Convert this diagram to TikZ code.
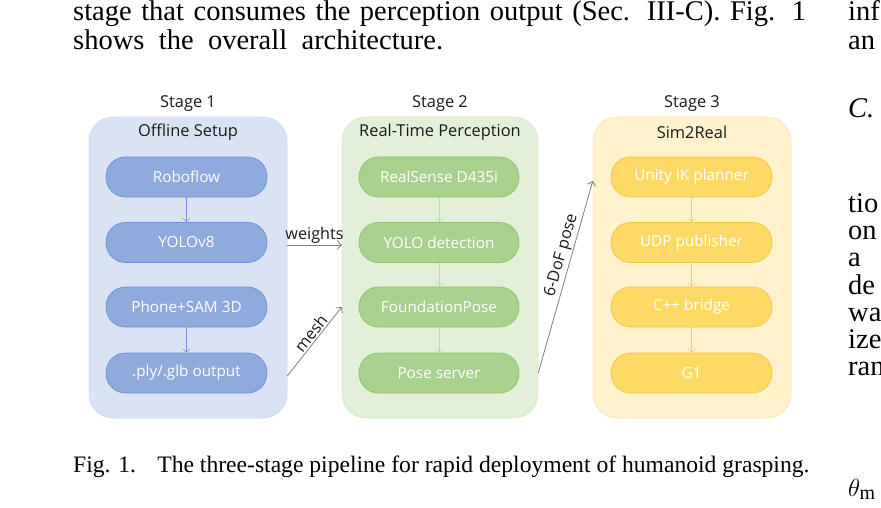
\documentclass[tikz,border=0pt]{standalone}
\usepackage{fontspec}
\setmainfont{Liberation Serif}
\newfontfamily\diagfont{Open Sans}
\usetikzlibrary{arrows.meta}
\definecolor{sOnebg}{HTML}{DAE3F3}
\definecolor{sOneline}{HTML}{C9D5EC}
\definecolor{sOnepill}{HTML}{8FAADC}
\definecolor{sOnepline}{HTML}{6F90D6}
\definecolor{sTwobg}{HTML}{E2F0D9}
\definecolor{sTwoline}{HTML}{D0E6C2}
\definecolor{sTwopill}{HTML}{A9D18E}
\definecolor{sTwopline}{HTML}{8DC46A}
\definecolor{sTwoarr}{HTML}{B7DC9C}
\definecolor{sThrbg}{HTML}{FFF2CC}
\definecolor{sThrline}{HTML}{F3E3B6}
\definecolor{sThrpill}{HTML}{FFD966}
\definecolor{sThrpline}{HTML}{F2C744}
\definecolor{sThrarr}{HTML}{F3CF66}
\definecolor{grayarr}{HTML}{7F7F7F}
\definecolor{labelink}{HTML}{1A1A1A}
\begin{document}
\begin{tikzpicture}[x=1pt,y=-1pt,
  stagebox/.style={rectangle, rounded corners=24pt, line width=0.5pt, inner sep=0pt, minimum height=301pt},
  pill/.style={rectangle, rounded corners=19.5pt, minimum height=40pt, line width=0.7pt, text=white, inner sep=0pt, font=\diagfont\fontsize{15.3}{18}\selectfont},
  headtext/.style={inner sep=0pt, text=labelink, font=\diagfont\fontsize{16.4}{19}\selectfont},
  inarrow/.style={line width=0.6pt, -{Straight Barb[length=3.5pt,width=7pt]}},
  linkarrow/.style={line width=0.8pt, draw=grayarr, -{Straight Barb[length=4pt,width=8.5pt]}},
  linklabel/.style={inner sep=1.5pt, text=labelink, font=\diagfont\fontsize{16.2}{19}\selectfont},
  bodytext/.style={anchor=base west, inner sep=0pt, font=\fontsize{28.5}{34}\selectfont},
  captext/.style={anchor=base west, inner sep=0pt, font=\fontsize{23.6}{28}\selectfont}
]
\useasboundingbox (0,0) rectangle (881,508);
\clip (0,0) rectangle (881,508);
\fill[white] (0,0) rectangle (881,508);

% page text
\node[bodytext] (bodyA) at (73,21) {\makebox[733pt][s]{stage that consumes the perception output (Sec. III-C). Fig. 1}};
\node[bodytext] (bodyB) at (73,50) {\makebox[370pt][s]{shows the overall architecture.}};
\node[bodytext] (rA) at (848,21) {inf};
\node[bodytext] (rB) at (848,50) {an};
\node[bodytext] (rC) at (848,118) {\textit{C.}};
\node[bodytext] (rD) at (848,212) {tio};
\node[bodytext] (rE) at (848,239) {on};
\node[bodytext] (rF) at (848,266) {a};
\node[bodytext] (rG) at (848,294) {de};
\node[bodytext] (rH) at (848,321) {wa};
\node[bodytext] (rI) at (848,348) {ize};
\node[bodytext] (rJ) at (848,375) {ran};
\node[bodytext] (rK) at (848,496) {$\theta_{\mathrm{m}}$};
\node[captext] (cap) at (73,472) {Fig. 1.\hspace{0.9em}The three-stage pipeline for rapid deployment of humanoid grasping.};

% stage boxes
\node[stagebox, fill=sOnebg, draw=sOneline, minimum width=198pt] (sOne) at (188,267.5) {};
\node[stagebox, fill=sTwobg, draw=sTwoline, minimum width=196pt] (sTwo) at (440,267.5) {};
\node[stagebox, fill=sThrbg, draw=sThrline, minimum width=198pt] (sThr) at (692,267.5) {};

\node[headtext] (hOne) at (188,104) {Stage 1};
\node[headtext] (hTwo) at (440,104) {Stage 2};
\node[headtext] (hThr) at (692,104) {Stage 3};
\node[headtext] (tOne) at (188,132) {Offline Setup};
\node[headtext] (tTwo) at (440,132) {Real-Time Perception};
\node[headtext] (tThr) at (692,132) {Sim2Real};

% stage 1 pills
\tikzset{pOne/.style={pill, fill=sOnepill, draw=sOnepline, minimum width=161pt}}
\node[pOne] (aA) at (186.5,177) {Roboflow};
\node[pOne] (aB) at (186.5,242.5) {YOLOv8};
\node[pOne] (aC) at (186.5,307) {Phone+SAM 3D};
\node[pOne] (aD) at (186.5,373) {.ply/.glb output};
\draw[inarrow, draw=sOnepline] (aA.south) -- (aB.north);
\draw[inarrow, draw=sOnepline] (aC.south) -- (aD.north);

% stage 2 pills
\tikzset{pTwo/.style={pill, fill=sTwopill, draw=sTwopline, minimum width=160pt}}
\node[pTwo] (bA) at (439,177) {RealSense D435i};
\node[pTwo] (bB) at (439,242.5) {YOLO detection};
\node[pTwo] (bC) at (439,307) {FoundationPose};
\node[pTwo] (bD) at (439,373) {Pose server};
\draw[inarrow, draw=sTwoarr] (bA.south) -- (bB.north);
\draw[inarrow, draw=sTwoarr] (bB.south) -- (bC.north);
\draw[inarrow, draw=sTwoarr] (bC.south) -- (bD.north);

% stage 3 pills
\tikzset{pThr/.style={pill, fill=sThrpill, draw=sThrpline, minimum width=161pt}}
\node[pThr] (cA) at (691.5,177) {Unity IK planner};
\node[pThr] (cB) at (691.5,242.5) {UDP publisher};
\node[pThr] (cC) at (691.5,307) {C++ bridge};
\node[pThr] (cD) at (691.5,373) {G1};
\draw[inarrow, draw=sThrarr] (cA.south) -- (cB.north);
\draw[inarrow, draw=sThrarr] (cB.south) -- (cC.north);
\draw[inarrow, draw=sThrarr] (cC.south) -- (cD.north);

% links between stages
\coordinate (wy) at (0,245);
\coordinate (my) at (0,376);
\coordinate (py) at (0,181);
\draw[linkarrow] (sOne.east |- wy) -- node[linklabel, above] {weights} (sTwo.west |- wy);
\draw[linkarrow] (sOne.east |- my) -- node[linklabel, pos=0.55, sloped, above] {mesh} (sTwo.west |- bC.center);
\draw[linkarrow] (sTwo.east |- bD.center) -- node[linklabel, pos=0.6, sloped, above] {6-DoF pose} (sThr.west |- py);
\end{tikzpicture}
\end{document}
